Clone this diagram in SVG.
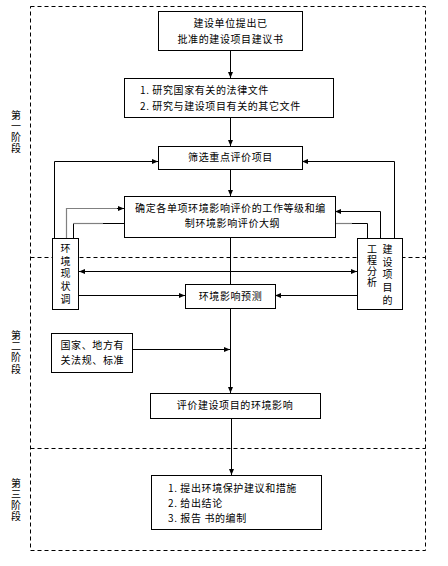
<svg xmlns="http://www.w3.org/2000/svg" width="448" height="566" viewBox="0 0 448 566">
<defs>
<marker id="ah" viewBox="0 0 6 6" markerWidth="6" markerHeight="6" refX="6" refY="3" orient="auto-start-reverse" markerUnits="userSpaceOnUse">
<path d="M0,0.5 L6,3 L0,5.5 z" fill="#000"/>
</marker>
<style>
.stage{fill:none;stroke:#000;stroke-width:1;stroke-dasharray:4 3}
.box{fill:#fff;stroke:#000;stroke-width:1}
.ln{fill:none;stroke:#000;stroke-width:1}
.gr{fill:none;stroke:#808080;stroke-width:1.2}
.arr{marker-end:url(#ah)}
text{font-family:"Noto Sans CJK SC","Noto Sans",sans-serif;font-size:10px;letter-spacing:0.6px;fill:#000}
.c{text-anchor:middle}
.vt{writing-mode:vertical-rl;text-anchor:start}
</style>
</defs>
<rect width="448" height="566" fill="#fff"/>
<g id="stages">
<rect class="stage" x="30.5" y="6.5" width="395" height="544"/>
<line class="stage" x1="30.5" y1="257.5" x2="425.5" y2="257.5"/>
<line class="stage" x1="30.5" y1="448.5" x2="425.5" y2="448.5"/>
<text class="vt" x="16" y="110" style="letter-spacing:1px">第一阶段</text>
<text class="vt" x="16" y="330" style="letter-spacing:1.3px">第二阶段</text>
<text class="vt" x="16" y="478" style="letter-spacing:1px">第三阶段</text>
</g>
<g id="connectors">
<line class="ln arr" x1="230.5" y1="50.5" x2="230.5" y2="78"/>
<line class="ln arr" x1="230.5" y1="117.5" x2="230.5" y2="146"/>
<polyline class="ln arr" points="54.5,238 54.5,161.5 158,161.5"/>
<polyline class="ln arr" points="394.5,238 394.5,161.5 302,161.5"/>
<line class="ln arr" x1="230.5" y1="169.5" x2="230.5" y2="196"/>
<polyline class="gr" points="66.5,238 66.5,208.5 118,208.5"/>
<line class="ln arr" x1="117" y1="208.5" x2="124" y2="208.5"/>
<line class="ln" x1="73.5" y1="238" x2="73.5" y2="223.5"/>
<line class="gr" x1="73.5" y1="223.5" x2="103" y2="223.5"/>
<line class="ln" x1="103" y1="223.5" x2="124" y2="223.5"/>
<polyline class="ln arr" points="380.5,238 380.5,211.5 335,211.5"/>
<polyline class="ln" points="367.5,238 367.5,223.5 352,223.5"/>
<line class="gr" x1="352" y1="223.5" x2="335" y2="223.5"/>
<line class="ln arr" x1="79" y1="271.5" x2="357" y2="271.5" marker-start="url(#ah)"/>
<line class="ln arr" x1="79" y1="295.5" x2="185" y2="295.5"/>
<line class="ln arr" x1="357" y1="295.5" x2="275" y2="295.5"/>
<line class="ln" x1="230.5" y1="237" x2="230.5" y2="284"/>
<line class="ln arr" x1="230.5" y1="308.5" x2="230.5" y2="393"/>
<line class="ln arr" x1="132" y1="349.5" x2="230" y2="349.5"/>
<line class="ln arr" x1="231.5" y1="418.5" x2="231.5" y2="475"/>
</g>
<g id="n1">
<rect class="box" x="158.5" y="11.5" width="144" height="39"/>
<text class="c" x="230.5" y="26.5">建设单位提出已</text>
<text class="c" x="230.5" y="42.5">批准的建设项目建议书</text>
</g>
<g id="n2">
<rect class="box" x="124.5" y="78.5" width="209" height="39"/>
<text x="140" y="93.5">1. 研究国家有关的法律文件</text>
<text x="140" y="109.5">2. 研究与建设项目有关的其它文件</text>
</g>
<g id="n3">
<rect class="box" x="158.5" y="146.5" width="144" height="23"/>
<text class="c" x="230.5" y="161">筛选重点评价项目</text>
</g>
<g id="n4">
<rect class="box" x="124.5" y="196.5" width="211" height="41"/>
<text class="c" x="230.5" y="211.5">确定各单项环境影响评价的工作等级和编</text>
<text class="c" x="232.5" y="227">制环境影响评价大纲</text>
</g>
<g id="n-env">
<rect class="box" x="52.5" y="238.5" width="26" height="71"/>
<text class="vt" x="65.5" y="243" style="letter-spacing:2.75px">环境现状调</text>
</g>
<g id="n-proj">
<rect class="box" x="357.5" y="238.5" width="45" height="71"/>
<text class="vt" x="372" y="244" style="letter-spacing:1px">工程分析</text>
<text class="vt" x="387.5" y="244" style="letter-spacing:2.75px">建设项目的</text>
</g>
<g id="n5">
<rect class="box" x="185.5" y="284.5" width="90" height="24"/>
<text class="c" x="230.5" y="299.5">环境影响预测</text>
</g>
<g id="n-law">
<rect class="box" x="51.5" y="333.5" width="81" height="39"/>
<text x="60.5" y="348.5">国家、地方有</text>
<text x="60.5" y="363.5">关法规、标准</text>
</g>
<g id="n6">
<rect class="box" x="150.5" y="393.5" width="170" height="25"/>
<text class="c" x="235" y="408.5">评价建设项目的环境影响</text>
</g>
<g id="n7">
<rect class="box" x="151.5" y="475.5" width="170" height="54"/>
<text x="168" y="491.5">1. 提出环境保护建议和措施</text>
<text x="168" y="506.5">2. 给出结论</text>
<text x="168" y="521.5">3. 报告 书的编制</text>
</g>
</svg>
